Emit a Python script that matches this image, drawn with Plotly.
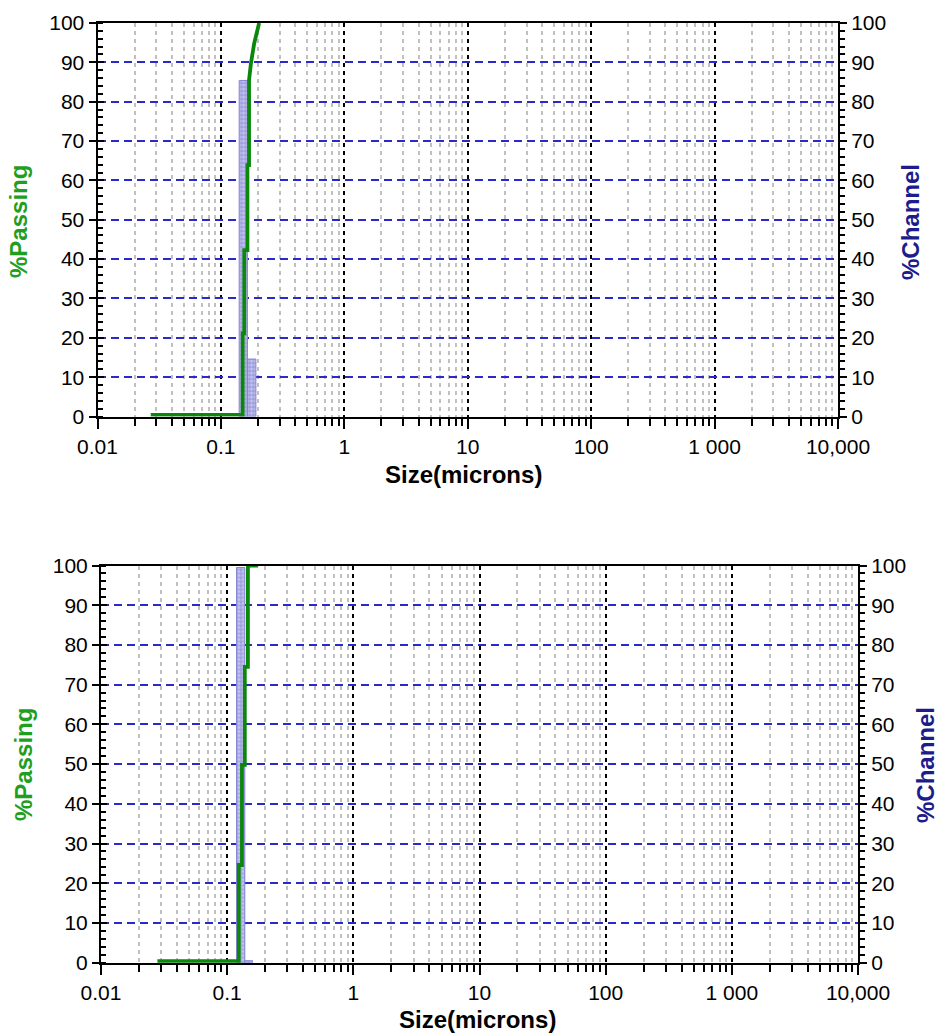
import plotly.graph_objects as go

# ---------------- data ----------------
x_tick_vals = [0.01, 0.1, 1, 10, 100, 1000, 10000]
x_tick_text = ["0.01", "0.1", "1", "10", "100", "1 000", "10,000"]
x_minor_vals = [m * 10.0 ** d for d in range(-2, 4) for m in range(2, 10)]
y_tick_vals = [0, 10, 20, 30, 40, 50, 60, 70, 80, 90, 100]

# top chart: cumulative % passing
top_size = [0.027, 0.150, 0.150, 0.1546, 0.1546, 0.164, 0.164, 0.169, 0.169, 0.175, 0.186, 0.204]
top_passing = [0.4, 0.4, 21.1, 21.1, 42.3, 42.3, 63.9, 63.9, 85.5, 89.7, 94.8, 100]
# top chart: % channel
top_lo = [0.1406, 0.164]
top_hi = [0.164, 0.192]
top_channel = [85.4, 14.6]

# bottom chart
bot_size = [0.028, 0.1236, 0.1236, 0.131, 0.131, 0.138, 0.138, 0.146, 0.146, 0.176]
bot_passing = [0.4, 0.4, 24.6, 24.6, 49.8, 49.8, 74.5, 74.5, 100, 100]
bot_lo = [0.1187, 0.138]
bot_hi = [0.138, 0.159]
bot_channel = [99.5, 0.5]

W, H = 938, 1033
FONT = "Liberation Sans, Arial, sans-serif"
tick_font = dict(family=FONT, size=21, color="black")
GREEN = "#0b870b"

fig = go.Figure()


def add_chart(sizes, passing, lo, hi, chan, xa, ych, ypa, yex):
    for a, b, h in zip(lo, hi, chan):
        fig.add_trace(go.Scatter(
            x=[a, a, b, b, a], y=[0, h, h, 0, 0], xaxis=xa, yaxis=ych,
            mode="lines", fill="toself", line=dict(color="#8484d4", width=1),
            fillcolor="#a4a4e2",
            fillpattern=dict(shape=".", bgcolor="#a0a0e0", fgcolor="#e4e4fa", size=4, solidity=0.45),
            hoverinfo="skip", showlegend=False))
    fig.add_trace(go.Scatter(x=sizes, y=passing, xaxis=xa, yaxis=ypa, mode="lines",
                             line=dict(color=GREEN, width=3.8), showlegend=False))
    fig.add_trace(go.Scatter(x=[None], y=[None], xaxis=xa, yaxis=yex, mode="lines",
                             showlegend=False, hoverinfo="skip"))


add_chart(top_size, top_passing, top_lo, top_hi, top_channel, "x", "y", "y2", "y5")
add_chart(bot_size, bot_passing, bot_lo, bot_hi, bot_channel, "x2", "y3", "y4", "y6")


def xcfg(domain, anchor):
    return dict(type="log", range=[-2, 4], domain=domain, anchor=anchor, automargin=False,
                tickmode="array", tickvals=x_tick_vals, ticktext=x_tick_text,
                ticks="outside", ticklen=10, tickwidth=2, tickcolor="black",
                showline=True, linecolor="black", linewidth=2, mirror=True,
                showgrid=True, gridcolor="black", griddash="4px,4px", gridwidth=2,
                minor=dict(tickmode="array", tickvals=x_minor_vals, ticks="outside", ticklen=7,
                           tickwidth=2, tickcolor="black", showgrid=True,
                           gridcolor="#c0c0c0", griddash="4px,4px", gridwidth=2),
                zeroline=False, tickfont=tick_font)


def ych(domain, anchor):
    return dict(domain=domain, anchor=anchor, side="right", range=[0, 100], automargin=False,
                tickmode="array", tickvals=y_tick_vals,
                ticks="outside", ticklen=7, tickwidth=2, tickcolor="black",
                showline=True, linecolor="black", linewidth=2,
                showgrid=True, gridcolor="#2a2ac8", griddash="8px,5px", gridwidth=2,
                minor=dict(dtick=2, ticks="outside", ticklen=5, tickwidth=1.5,
                           tickcolor="black", showgrid=False),
                zeroline=False, tickfont=tick_font)


def ypa(over, anchor):
    return dict(overlaying=over, anchor=anchor, side="left", range=[0, 100], automargin=False,
                tickmode="array", tickvals=y_tick_vals,
                ticks="outside", ticklen=7, tickwidth=2, tickcolor="black",
                showline=True, linecolor="black", linewidth=2, showgrid=False,
                minor=dict(dtick=2, ticks="inside", ticklen=5, tickwidth=1.5,
                           tickcolor="black", showgrid=False),
                zeroline=False, tickfont=tick_font)


def yex(over, anchor):
    return dict(overlaying=over, anchor=anchor, side="left", range=[0, 100], automargin=False,
                tickmode="array", tickvals=y_tick_vals, ticks="inside", ticklen=6,
                tickwidth=2, tickcolor="black", showticklabels=False,
                showline=False, showgrid=False, zeroline=False)


top_xd = [97.5 / W, 838 / W]
bot_xd = [101 / W, 858 / W]
top_yd = [1 - 416.5 / H, 1 - 23 / H]
bot_yd = [1 - 962.7 / H, 1 - 565.5 / H]

fig.update_layout(
    width=W, height=H, margin=dict(l=0, r=0, t=0, b=0, autoexpand=False),
    paper_bgcolor="white", plot_bgcolor="white", showlegend=False,
    xaxis=xcfg(top_xd, "y"), xaxis2=xcfg(bot_xd, "y3"),
    yaxis=ych(top_yd, "x"), yaxis2=ypa("y", "x"), yaxis5=yex("y", "x"),
    yaxis3=ych(bot_yd, "x2"), yaxis4=ypa("y3", "x2"), yaxis6=yex("y3", "x2"),
)

title_font = dict(family=FONT, size=24)
ann = [
    ("%Passing", 19, 222, -90, "#1f9e1f"),
    ("%Channel", 911, 222, -90, "#1c1c8c"),
    ("Size(microns)", 463, 474, 0, "black"),
    ("%Passing", 23, 765, -90, "#1f9e1f"),
    ("%Channel", 925, 765, -90, "#1c1c8c"),
    ("Size(microns)", 478, 1019, 0, "black"),
]
for text, px, py, ang, col in ann:
    fig.add_annotation(text="<b>%s</b>" % text, x=px / W, y=1 - py / H, xref="paper", yref="paper",
                       showarrow=False, textangle=ang, font=dict(title_font, color=col),
                       xanchor="center", yanchor="middle")

fig.write_html("out.html")
